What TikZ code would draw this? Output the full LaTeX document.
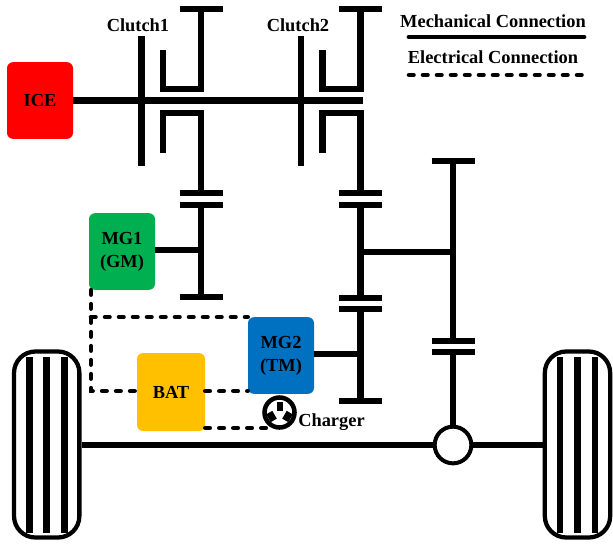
\documentclass[tikz,border=0pt]{standalone}
\usepackage{fontspec}
\setmainfont{Liberation Serif}
\usepackage{xcolor}
\usetikzlibrary{positioning, calc}
\definecolor{icered}{HTML}{FF0000}
\definecolor{mgone}{HTML}{00B050}
\definecolor{mgtwo}{HTML}{0070C0}
\definecolor{batyellow}{HTML}{FFC000}
\tikzset{
    lbl/.style={font=\fontsize{13.8}{17.2}\selectfont\bfseries, inner sep=0pt, align=center},
    unit/.style={lbl, rounded corners=4.5pt, minimum width=49.5pt, minimum height=57.5pt},
    mech/.style={line width=5.2pt},
    elec/.style={line width=3.4pt, line cap=round, dash pattern=on 3.4pt off 7.1pt},
    wheelbox/.style={draw, fill=white, rounded corners=16pt, line width=3.2pt, minimum width=49pt, minimum height=139.5pt, inner sep=0pt},
}
\begin{document}
\begin{tikzpicture}[x=0.75pt, y=-0.75pt]
    \useasboundingbox (0,0) rectangle (613,543);

    \node[unit, fill=icered] (ice) at (40,100.5) {ICE};
    \node[unit, fill=mgone] (mgg) at (122,251.5) {MG1\\(GM)};
    \node[unit, fill=batyellow, minimum width=51pt, minimum height=58.5pt] (bat) at (171,392) {BAT};
    \node[unit, fill=mgtwo] (mgt) at (281,355.5) {MG2\\(TM)};

    % shafts
    \coordinate (shaftend) at (363,100.5);
    \draw[mech] (ice.east) -- (shaftend);
    \foreach \cx in {141.5, 301} {
        \draw[mech] (\cx,36) -- (\cx,166);
        \draw[mech] (\cx+21.5,50) -- (\cx+21.5,89) -- (\cx+59.5,89) -- (\cx+59.5,9);
        \draw[mech] (\cx+38,9) -- (\cx+81,9);
        \draw[mech] (\cx+21.5,153) -- (\cx+21.5,113) -- (\cx+59.5,113) -- (\cx+59.5,193);
        \draw[mech] (\cx+38,193) -- (\cx+81,193);
        \draw[mech] (\cx+38,205) -- (\cx+81,205);
    }
    \node[lbl] (clutchone) at (138,25) {Clutch1};
    \node[lbl] (clutchtwo) at (298,25) {Clutch2};

    % MG1 gear
    \coordinate (gearone) at (201,250);
    \draw[mech] (201,205) -- (201,297);
    \draw[mech] (179.5,297) -- (222.5,297);
    \draw[mech] (mgg.east |- gearone) -- (gearone);

    % MG2 gears
    \coordinate (geartwo) at (360.5,354);
    \coordinate (gearthree) at (360.5,252);
    \coordinate (finalgear) at (453,252);
    \draw[mech] (360.5,205) -- (360.5,298);
    \draw[mech] (339,298) -- (382,298);
    \draw[mech] (339,309) -- (382,309);
    \draw[mech] (360.5,309) -- (360.5,401);
    \draw[mech] (339,401) -- (382,401);
    \draw[mech] (mgt.east |- geartwo) -- (geartwo);
    \draw[mech] (gearthree) -- (finalgear);

    % final drive
    \node[draw, fill=white, circle, line width=3pt, minimum size=27.5pt, inner sep=0pt] (diff) at (453,445) {};
    \draw[mech] (431.5,161) -- (474.5,161);
    \draw[mech] (453,161) -- (453,341);
    \draw[mech] (431.5,341) -- (474.5,341);
    \draw[mech] (431.5,352) -- (474.5,352);
    \draw[mech] (453,352) -- (diff.north);

    % wheels
    \node[wheelbox] (wheell) at (46.7,444.5) {};
    \node[wheelbox] (wheelr) at (577.5,444.5) {};
    \foreach \sx in {-17.5,0,17.5} {
        \draw[line width=5.1pt] ($(wheell.center)+(\sx,-87.5)$) -- ($(wheell.center)+(\sx,88)$);
        \draw[line width=5.1pt] ($(wheelr.center)+(\sx,-87.5)$) -- ($(wheelr.center)+(\sx,88)$);
    }
    \coordinate (axlel) at (wheell.east |- diff.west);
    \coordinate (axler) at (wheelr.west |- diff.east);
    \draw[mech] (axlel) -- (diff.west);
    \draw[mech] (diff.east) -- (axler);

    % electrical
    \coordinate (busleft) at (91,391);
    \coordinate (busjoin) at (91,317);
    \node[draw, circle, line width=3.4pt, minimum size=22.5pt, inner sep=0pt] (charger) at (279.5,412.5) {};
    \fill (276.5,401.5) rectangle (282.5,411);
    \fill[rotate around={30:(271.5,416.5)}] (268,412) rectangle (275,421);
    \fill[rotate around={-30:(287.5,416.5)}] (284,412) rectangle (291,421);
    \node[lbl, anchor=west] (chargerlbl) at (298,422) {Charger};
    \draw[elec] (mgg.south -| busleft) -- (busleft) -- (bat.west |- busleft);
    \draw[elec] (busjoin) -- (mgt.west |- busjoin);
    \draw[elec] (bat.east |- busleft) -- (mgt.west |- busleft);
    \coordinate (chargerfoot) at (272,428);
    \draw[elec] (bat.east |- chargerfoot) -- (chargerfoot);

    % legend
    \node[lbl] (mechlbl) at (493,21) {Mechanical Connection};
    \node[lbl] (eleclbl) at (493,57) {Electrical Connection};
    \coordinate (mecha) at (409,37);
    \coordinate (mechb) at (584,37);
    \coordinate (eleca) at (409,75);
    \coordinate (elecb) at (583,75);
    \draw[line width=3.6pt, line cap=round] (mecha) -- (mechb);
    \draw[elec] (eleca) -- (elecb);
\end{tikzpicture}
\end{document}
